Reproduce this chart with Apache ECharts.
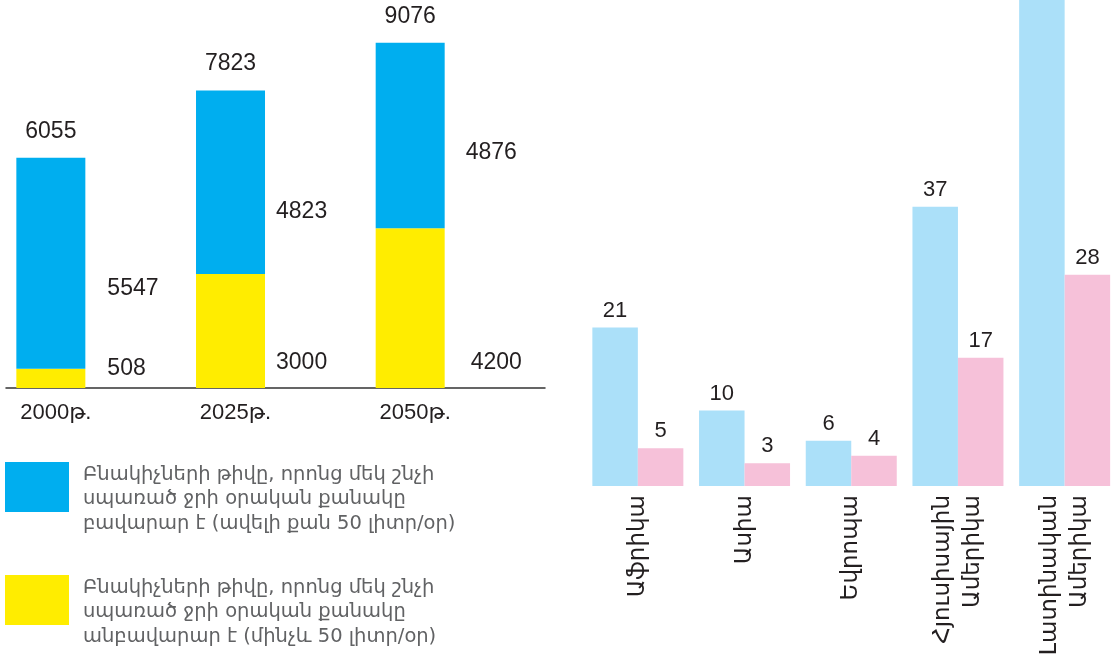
<!DOCTYPE html>
<html>
<head>
<meta charset="utf-8">
<script src="https://cdn.jsdelivr.net/npm/echarts@6/dist/echarts.min.js"></script>
<style>
html,body{margin:0;padding:0;background:#fff;}
#chart{width:1118px;height:661px;}
</style>
</head>
<body>
<div id="chart"></div>
<script>
// ---- data ----
const years = ['2000թ.', '2025թ.', '2050թ.'];
const adequate = [5547, 4823, 4876];      // blue
const inadequate = [508, 3000, 4200];     // yellow
const legendAdequate = 'Բնակիչների թիվը, որոնց մեկ շնչի\nսպառած ջրի օրական քանակը\nբավարար է (ավելի քան 50 լիտր/օր)';
const legendInadequate = 'Բնակիչների թիվը, որոնց մեկ շնչի\nսպառած ջրի օրական քանակը\nանբավարար է (մինչև 50 լիտր/օր)';

const regions = ['Աֆրիկա', 'Ասիա', 'Եվրոպա', 'Հյուսիսային\nԱմերիկա', 'Լատինական\nԱմերիկա'];
const regionA = [21, 10, 6, 37, 70];
const regionB = [5, 3, 4, 17, 28];

// ---- styling helpers ----
const numFont = "'Liberation Sans', 'DejaVu Sans', sans-serif";
const armFont = "'DejaVu Sans', sans-serif";
const dark = '#231f20';
const totals = adequate.map((v, i) => v + inadequate[i]);

const blueOffsets = [[22, 131], [11, 121], [21, 110]];
const yellowOffsets = [[22, -19], [11, -25], [26, -25]];

const chart = echarts.init(document.getElementById('chart'));
const barW = 69;
const gap = '30.4%';

chart.setOption({
  animation: false,
  legend: {
    data: [legendAdequate, legendInadequate],
    orient: 'vertical',
    left: 5,
    top: 438,
    padding: 0,
    icon: 'rect',
    itemWidth: 64,
    itemHeight: 50,
    itemGap: 15,
    formatter: name => '\n' + name,
    textStyle: {
      fontFamily: armFont,
      fontSize: 19.5,
      lineHeight: 24.5,
      color: '#616264',
      padding: [0, 0, 0, 9]
    }
  },
  grid: [
    {left: 6, top: 0, width: 539, height: 388},
    {left: 584.5, top: 0, width: 537.5, height: 486}
  ],
  xAxis: [
    {
      gridIndex: 0, type: 'category', data: years,
      axisLine: {lineStyle: {color: '#333', width: 1.5}},
      axisTick: {show: false},
      axisLabel: {fontFamily: numFont, fontSize: 22, color: dark, margin: 14, padding: [0, 80, 0, 0]}
    },
    {
      gridIndex: 1, type: 'category', data: regions,
      axisLine: {show: false},
      axisTick: {show: false},
      axisLabel: {interval: 0, rotate: 90, margin: 9, fontFamily: armFont, fontSize: 23, lineHeight: 30, color: dark}
    }
  ],
  yAxis: [
    {gridIndex: 0, type: 'value', min: 0, max: 10200, show: false},
    {gridIndex: 1, type: 'value', min: 0, max: 64.4, show: false}
  ],
  series: [
    {
      name: legendInadequate, type: 'bar', stack: 'a', xAxisIndex: 0, yAxisIndex: 0,
      barWidth: barW, barGap: gap,
      itemStyle: {color: '#ffed00'},
      data: inadequate.map((v, i) => ({
        value: v,
        label: {show: true, position: ['100%', '100%'], offset: yellowOffsets[i]}
      })),
      label: {align: 'left', verticalAlign: 'middle', fontFamily: numFont, fontSize: 23, color: dark}
    },
    {
      name: legendAdequate, type: 'bar', stack: 'a', xAxisIndex: 0, yAxisIndex: 0,
      barWidth: barW, barGap: gap,
      itemStyle: {color: '#00aeef'},
      data: adequate.map((v, i) => ({
        value: v,
        label: {show: true, position: ['100%', 0], offset: blueOffsets[i]}
      })),
      label: {align: 'left', verticalAlign: 'middle', fontFamily: numFont, fontSize: 23, color: dark}
    },
    {
      name: 'total', type: 'bar', stack: 'a', xAxisIndex: 0, yAxisIndex: 0,
      barWidth: barW, barGap: gap, silent: true,
      itemStyle: {color: 'rgba(0,0,0,0)'},
      data: totals.map(() => 0),
      label: {show: true, position: 'top', distance: 15, fontFamily: numFont, fontSize: 23, color: dark,
        formatter: p => String(totals[p.dataIndex])}
    },
    {
      name: 'spacer', type: 'bar', stack: 'b', xAxisIndex: 0, yAxisIndex: 0,
      barWidth: barW, barGap: gap, silent: true,
      itemStyle: {color: 'rgba(0,0,0,0)'},
      data: totals.map(() => 0)
    },
    {
      name: 'A', type: 'bar', xAxisIndex: 1, yAxisIndex: 1,
      barWidth: 45.5, barGap: 0,
      itemStyle: {color: '#abe0f9'},
      data: regionA,
      label: {show: true, position: 'top', distance: 6, fontFamily: numFont, fontSize: 22, color: dark}
    },
    {
      name: 'B', type: 'bar', xAxisIndex: 1, yAxisIndex: 1,
      barWidth: 45.5, barGap: 0,
      itemStyle: {color: '#f6c1d9'},
      data: regionB,
      label: {show: true, position: 'top', distance: 6, fontFamily: numFont, fontSize: 22, color: dark}
    }
  ]
});
</script>
</body>
</html>
